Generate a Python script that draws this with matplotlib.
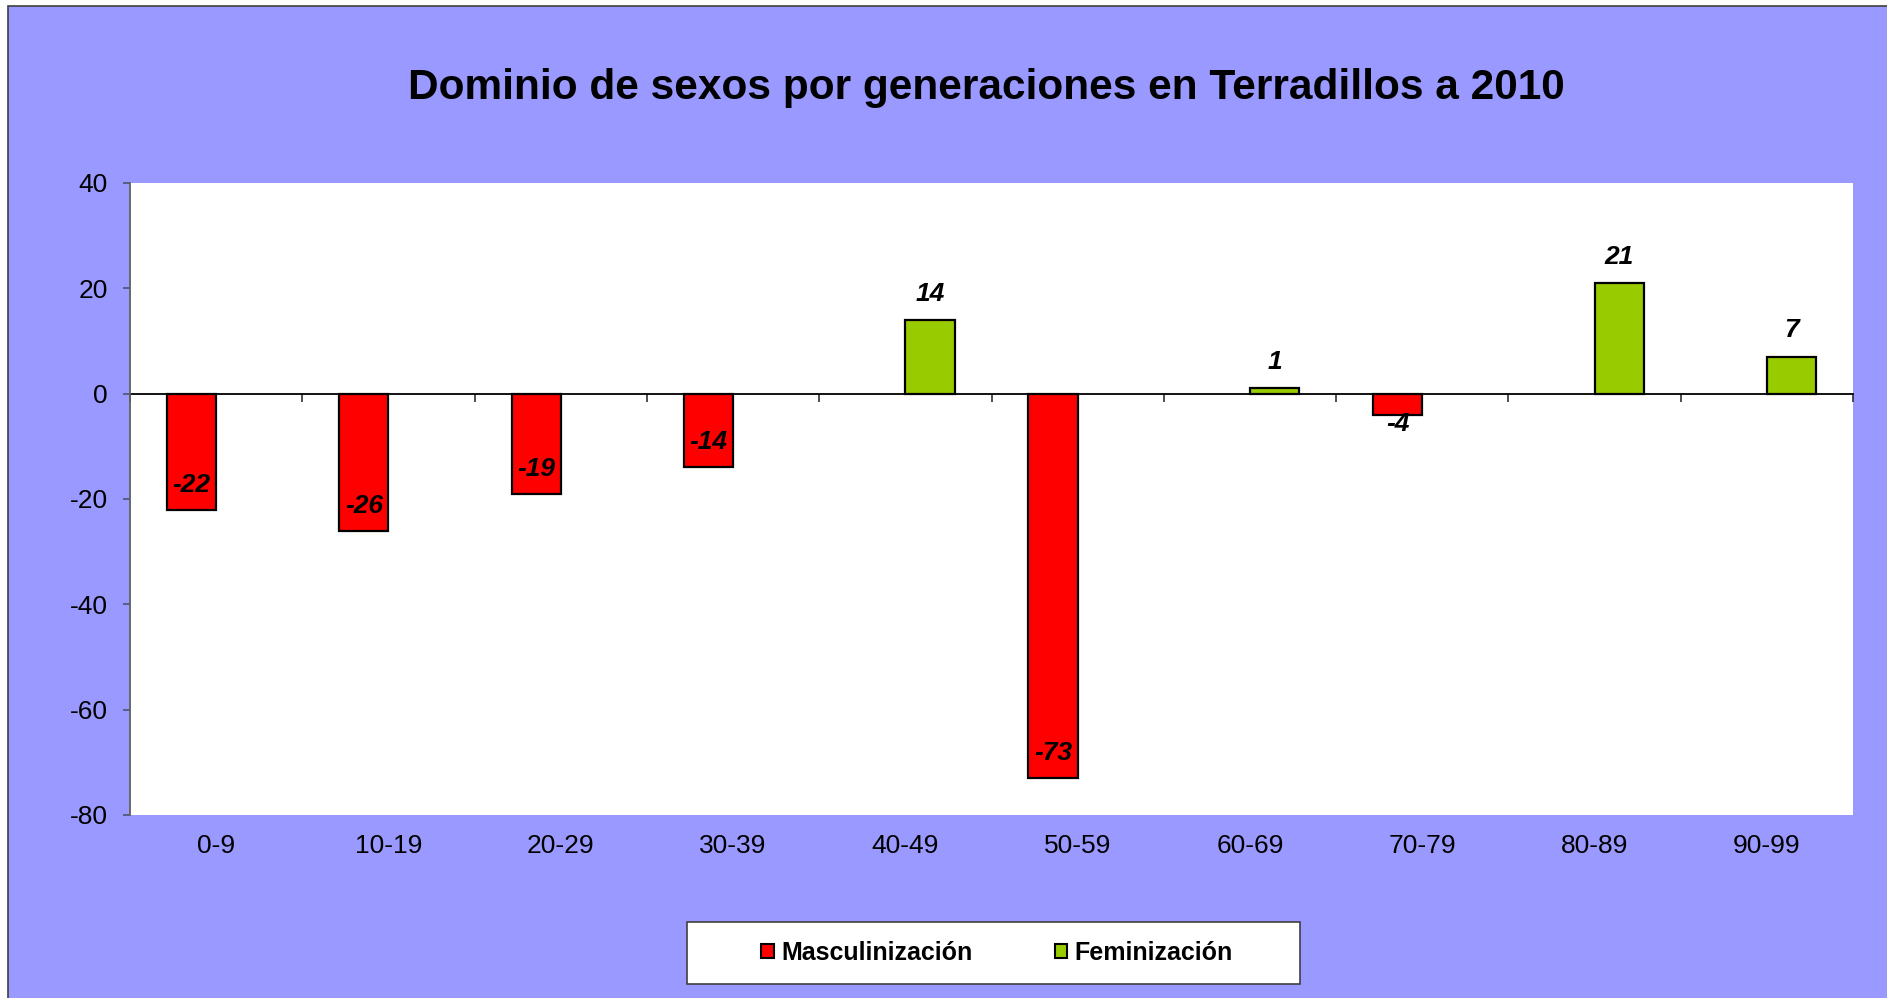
import numpy as np
import matplotlib
matplotlib.use("Agg")
import matplotlib.pyplot as plt
from matplotlib.patches import Patch, Rectangle
from matplotlib import font_manager

# data
grupos = ["0-9", "10-19", "20-29", "30-39", "40-49", "50-59", "60-69", "70-79", "80-89", "90-99"]
masculinizacion = [-22, -26, -19, -14, np.nan, -73, np.nan, -4, np.nan, np.nan]
feminizacion = [np.nan, np.nan, np.nan, np.nan, 14, np.nan, 1, np.nan, 21, 7]
yticks = [40, 20, 0, -20, -40, -60, -80]

titulo = "Dominio de sexos por generaciones en Terradillos a 2010"

rojo = "#FF0000"
verde = "#99CC00"
fondo = "#9999FF"

plt.rcParams['font.family'] = ['Liberation Sans', 'DejaVu Sans']
plt.rcParams['axes.unicode_minus'] = False
nombres = {f.name for f in font_manager.fontManager.ttflist}
narrow = 'Liberation Sans Narrow' if 'Liberation Sans Narrow' in nombres else 'Liberation Sans'
leg_size = 20 if narrow == 'Liberation Sans Narrow' else 18

W, H = 1887, 998
fig = plt.figure(figsize=(W / 100, H / 100), dpi=100, facecolor="white")

# blue chart area with a grey border
fig.patches.append(Rectangle((8 / W, -0.05), 1.1, 1 - 6 / H + 0.05, transform=fig.transFigure,
                             facecolor=fondo, edgecolor="#404040", linewidth=1.2, zorder=-10))

ax = fig.add_axes([130 / W, 1 - 815 / H, 1723 / W, 632 / H])
ax.set_facecolor("white")

x = np.arange(len(grupos))
w = 1 / 3.5
ax.bar(x - w / 2, masculinizacion, w, color=rojo, edgecolor="black", linewidth=1.6, zorder=3)
ax.bar(x + w / 2, feminizacion, w, color=verde, edgecolor="black", linewidth=1.6, zorder=3)

ax.set_xlim(-0.5, len(grupos) - 0.5)
ax.set_ylim(-80, 40)

for s in ["top", "right", "bottom"]:
    ax.spines[s].set_visible(False)
ax.spines["left"].set_color("#606060")
ax.spines["left"].set_linewidth(1.3)

ax.set_yticks(yticks)
ax.tick_params(axis="y", direction="out", length=5, width=1.2, color="#505070",
               labelsize=19, pad=11)
ax.set_xticks(x)
ax.set_xticklabels(grupos)
ax.tick_params(axis="x", length=0, labelsize=19, pad=14)

# zero line with category boundary ticks
sec = ax.secondary_xaxis(80 / 120)
sec.set_xticks(np.arange(-0.5, len(grupos), 1))
sec.tick_params(direction="in", length=6, width=1.2, color="#303030", labeltop=False, labelbottom=False)
sec.spines["top"].set_color("black")
sec.spines["top"].set_linewidth(1.3)
sec.spines["bottom"].set_visible(False)

# value labels
for i, v in enumerate(masculinizacion):
    if np.isnan(v):
        continue
    dy = 18 if abs(v) > 8 else -6.5
    ax.annotate(f"{v:.0f}", (x[i] - w / 2, v), xytext=(0, dy), textcoords="offset points",
                ha="center", va="center", fontsize=19, fontweight="bold", fontstyle="italic", zorder=5)
for i, v in enumerate(feminizacion):
    if np.isnan(v):
        continue
    ax.annotate(f"{v:.0f}", (x[i] + w / 2, v), xytext=(0, 19), textcoords="offset points",
                ha="center", va="center", fontsize=19, fontweight="bold", fontstyle="italic", zorder=5)

fig.text(986 / W, 1 - 88 / H, titulo, ha="center", va="center", fontsize=30.5, fontweight="bold")

# legend box
fig.patches.append(Rectangle((687 / W, 1 - 984 / H), 613 / W, 62 / H, transform=fig.transFigure,
                             facecolor="white", edgecolor="#404040", linewidth=1.2, zorder=-5))
handles = [Patch(facecolor=rojo, edgecolor="black", linewidth=1.5),
           Patch(facecolor=verde, edgecolor="black", linewidth=1.5)]
fig.legend(handles, ["Masculinización", "Feminización"], loc="center", ncol=2,
           bbox_to_anchor=(997 / W, 1 - 953 / H), frameon=False,
           prop={"family": narrow, "weight": "bold", "size": leg_size},
           handlelength=0.5, handleheight=0.5, handletextpad=0.3, columnspacing=3.3)

fig.savefig("out.png", dpi=100, facecolor="white")
